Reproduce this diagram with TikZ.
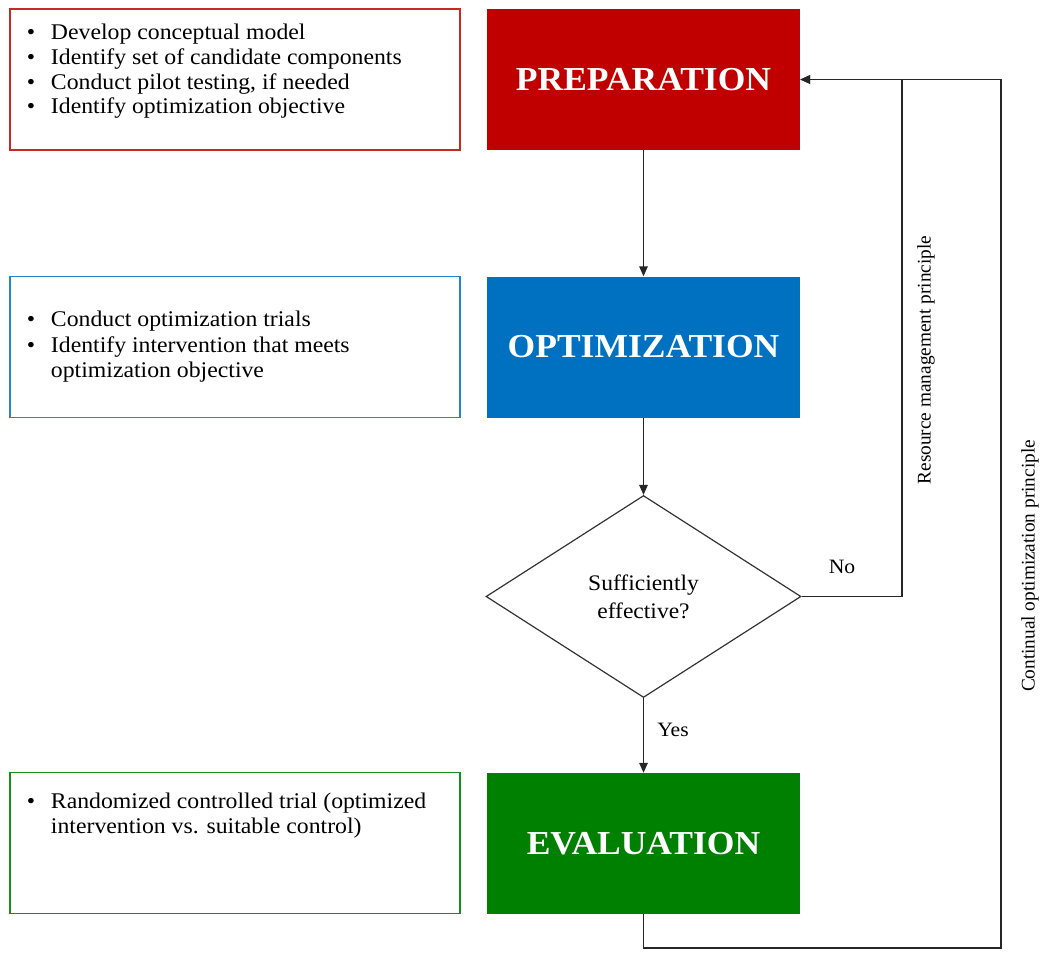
\documentclass[tikz,border=0pt]{standalone}
\usepackage{fontspec}
\setmainfont{Liberation Serif}[FakeStretch=1.06]
\newfontfamily\sidefont{Liberation Serif}
\usetikzlibrary{shapes.geometric,arrows.meta}

\definecolor{prepred}{HTML}{C00000}
\definecolor{optblue}{HTML}{0070C0}
\definecolor{evalgreen}{HTML}{008000}

\newcommand{\bitem}[1]{\makebox[24pt][l]{\textbullet}#1}
\newcommand{\bcont}[1]{\hspace*{24pt}#1}

\tikzset{
	phase/.style={minimum width=313pt, minimum height=141pt, inner sep=0pt, text=white, font=\rmfamily\fontsize{33.5}{38}\selectfont\bfseries},
	notes/.style={draw, line width=1.2pt, minimum width=450pt, minimum height=141pt, inner sep=0pt, font=\rmfamily\fontsize{22.4}{24.8}\selectfont},
	lbl/.style={font=\rmfamily\fontsize{20.4}{24}\selectfont},
	sidelbl/.style={rotate=90, font=\sidefont\fontsize{19.3}{24}\selectfont},
	flow/.style={-{Triangle[length=10pt,width=8.5pt]}, line width=1.4pt, draw=black!85}
}

\begin{document}
\begin{tikzpicture}[x=1pt,y=-1pt]
		\useasboundingbox (0,0) rectangle (1050,962);
		% phases
		\node[phase, fill=prepred] (prep) at (643.5,79.5) {PREPARATION};
		\node[phase, fill=optblue] (opt) at (643.5,347) {OPTIMIZATION};
		\node[phase, fill=evalgreen] (eval) at (643.5,843.5) {EVALUATION};
		\node[draw=black!80, line width=1.2pt, shape=diamond, aspect=1.56, minimum width=315pt, minimum height=202pt, inner sep=0pt, align=center, font=\rmfamily\fontsize{22.2}{28}\selectfont] (check) at (643.5,596.5) {Sufficiently\\effective?};
		% notes
		\node[notes, draw=prepred!85] (prepnotes) at (235,79.5) {\parbox[c][141pt][t]{416pt}{\vspace*{15pt}\bitem{Develop conceptual model}\\\bitem{Identify set of candidate components}\\\bitem{Conduct pilot testing, if needed}\\\bitem{Identify optimization objective}}};
		\node[notes, draw=optblue!85] (optnotes) at (235,347) {\parbox[c][121pt][c]{416pt}{\fontsize{22.4}{25.5}\selectfont\bitem{Conduct optimization trials}\\\bitem{Identify intervention that meets}\\\bcont{optimization objective}}};
		\node[notes, draw=evalgreen!90] (evalnotes) at (235,843) {\parbox[c][141pt][t]{416pt}{\fontsize{22.4}{25.8}\selectfont\vspace*{20pt}\bitem{Randomized controlled trial (optimized}\\\bcont{intervention vs. suitable control)}}};
		% connectors
		\coordinate (rmcorner) at (902,79.5);
		\coordinate (cocorner) at (1001,948);
		\draw[flow] (prep) -- (opt);
		\draw[flow] (opt) -- (check);
		\draw[flow] (check) -- (eval);
		\draw[flow] (check.east) -| (rmcorner) -- (prep.east);
		\draw[flow] (eval.south) |- (cocorner) |- (prep.east);
		% labels
		\node[lbl] (no) at (842,567) {No};
		\node[lbl] (yes) at (673,730) {Yes};
		\node[sidelbl] (rmlabel) at (926,360) {Resource management principle};
		\node[sidelbl] (colabel) at (1030,566) {Continual optimization principle};
	\end{tikzpicture}
\end{document}
